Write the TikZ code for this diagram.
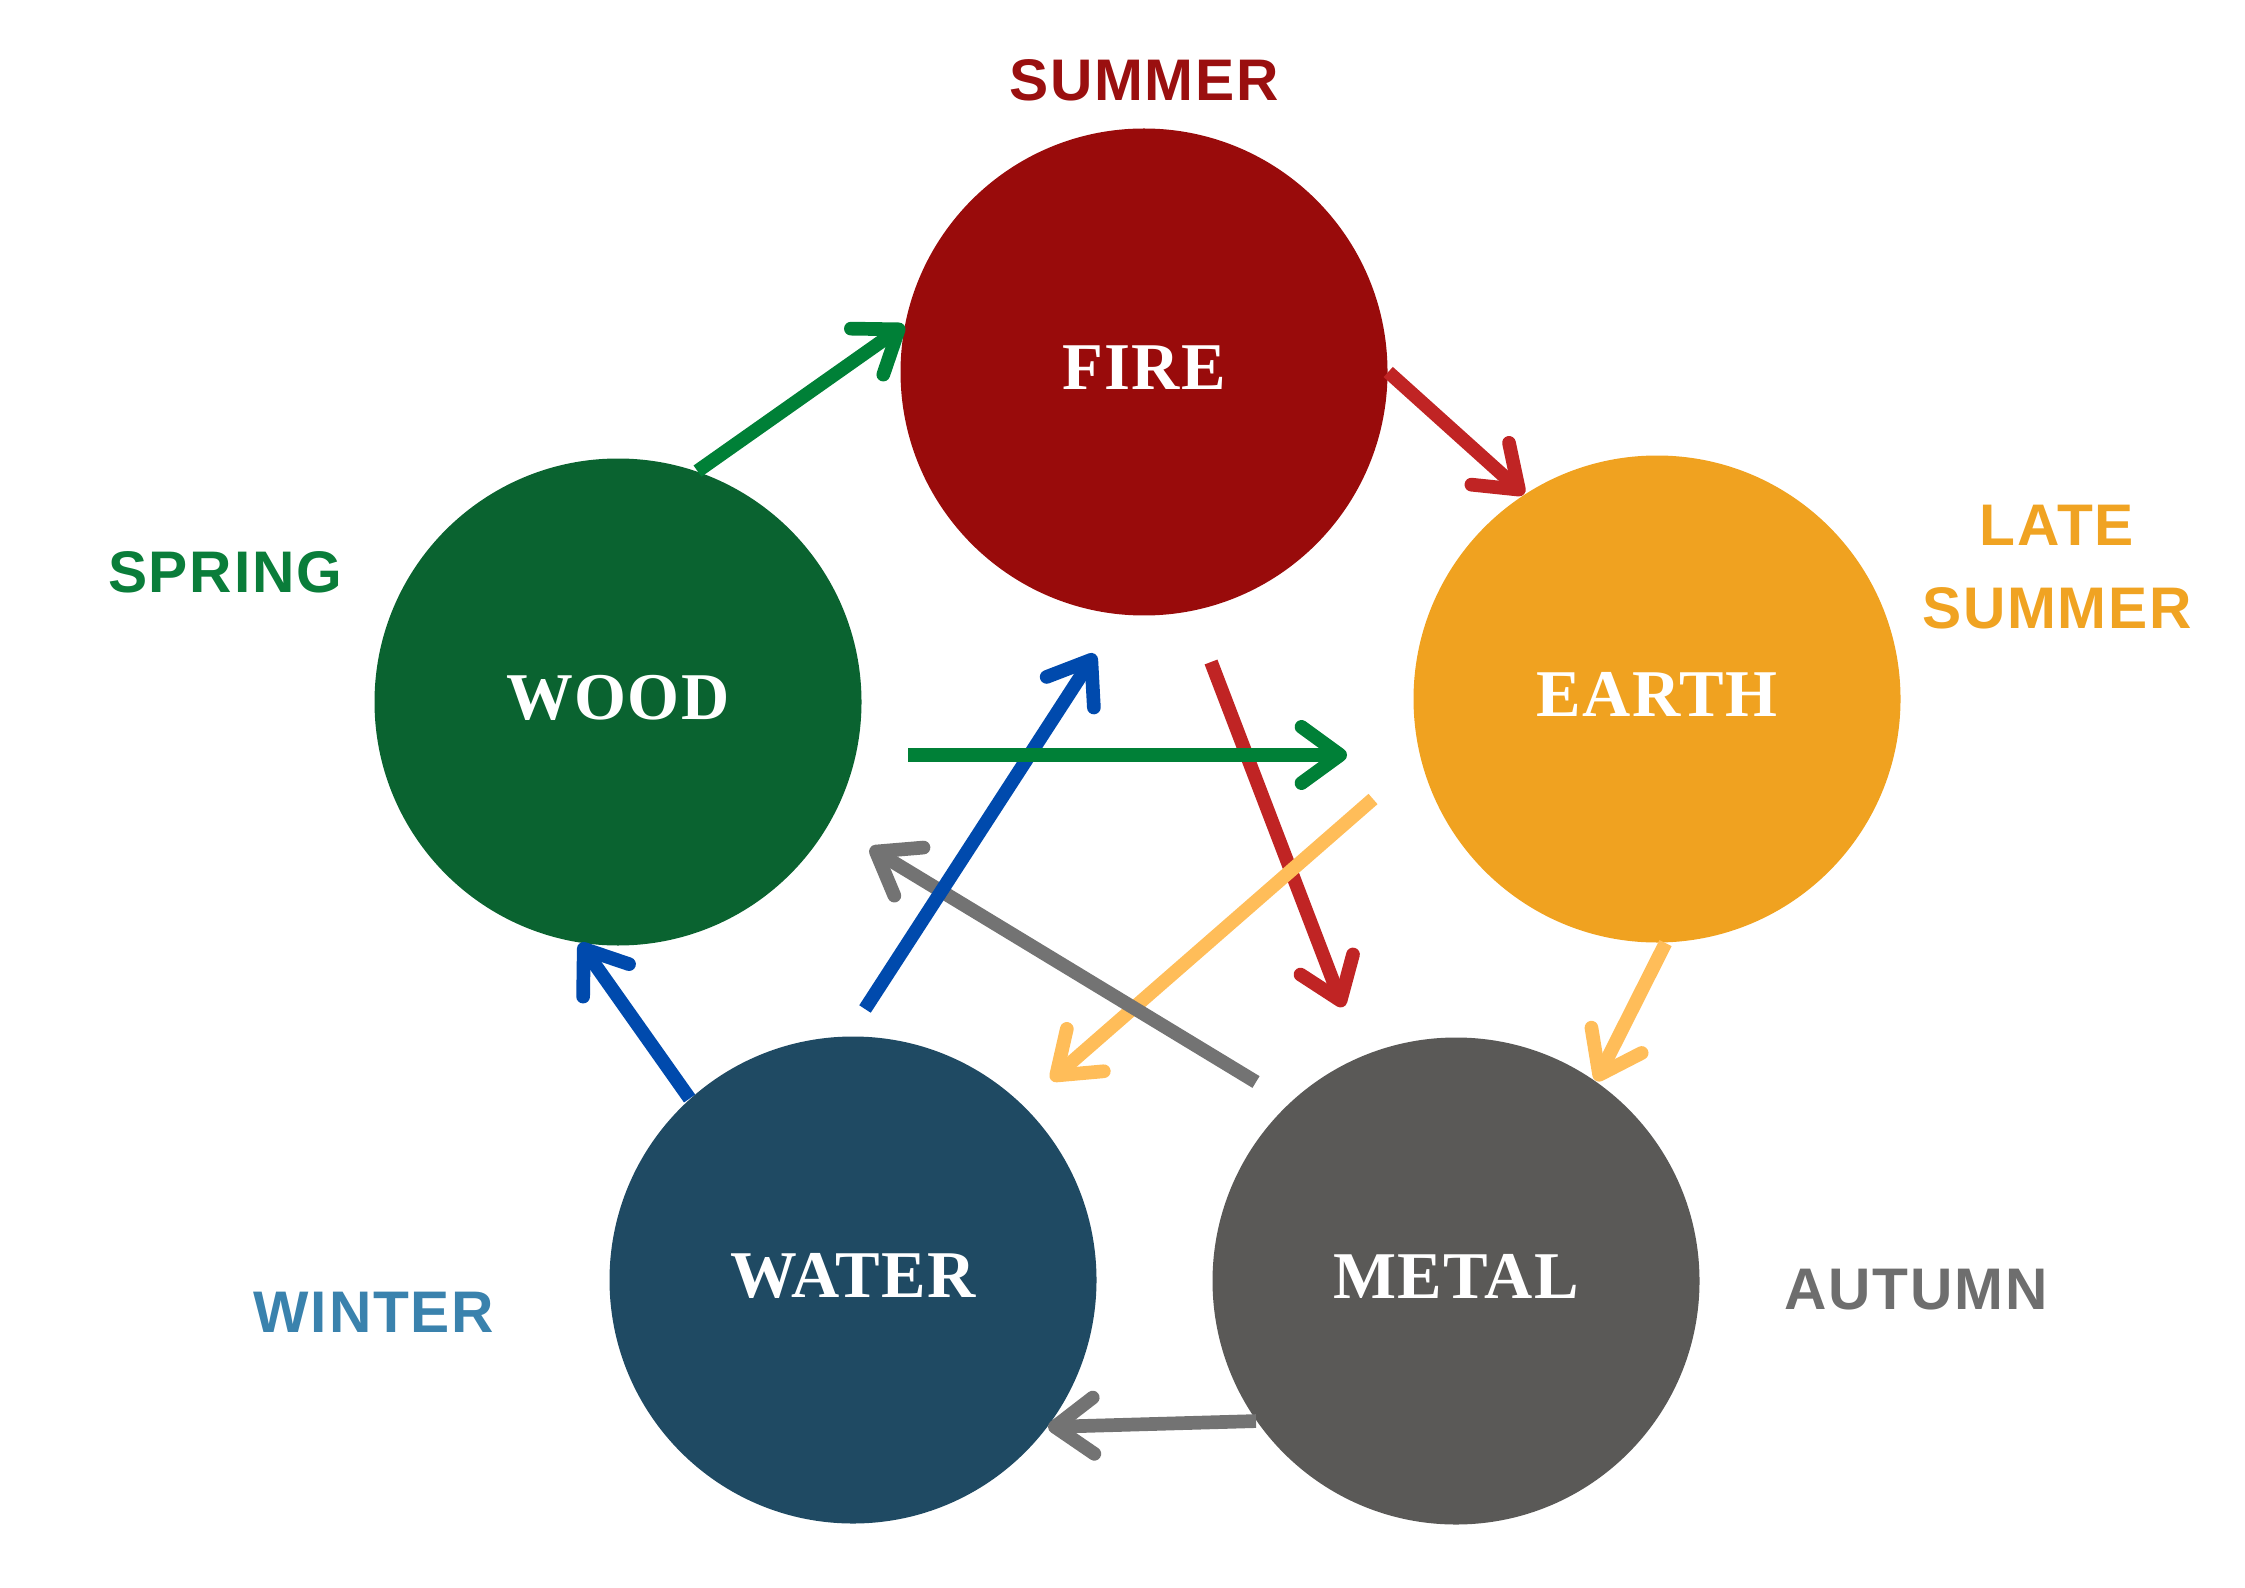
\documentclass[tikz,border=0pt]{standalone}
\usepackage{fontspec}
\usetikzlibrary{arrows.meta}
\newfontfamily\elemfont{Liberation Serif}[LetterSpace=2]
\newfontfamily\seasonfont{Liberation Sans}[LetterSpace=3]

\definecolor{firecol}{HTML}{990B0B}
\definecolor{woodcol}{HTML}{0A6330}
\definecolor{earthcol}{HTML}{F0A220}
\definecolor{watercol}{HTML}{1F4A63}
\definecolor{metalcol}{HTML}{5A5957}
\definecolor{arrgreen}{HTML}{008037}
\definecolor{arrred}{HTML}{C02424}
\definecolor{arryellow}{HTML}{FFBD59}
\definecolor{arrgray}{HTML}{737373}
\definecolor{arrblue}{HTML}{004AAD}
\definecolor{summercol}{HTML}{9A0F0F}
\definecolor{springcol}{HTML}{0A7D3A}
\definecolor{latecol}{HTML}{F0A322}
\definecolor{wintercol}{HTML}{3A82AD}
\definecolor{autumncol}{HTML}{6E6E6E}

\tikzset{
    elem/.style={circle,minimum size=48.7mm,inner sep=0pt,text=white,text depth=2.5pt,
        font=\elemfont\bfseries\fontsize{19}{22}\selectfont},
    season/.style={font=\seasonfont\bfseries\fontsize{16.7}{23.6}\selectfont,align=center},
    flow/.style={line width=3.9pt,-{Straight Barb[length=11pt,width=16pt,round]}}
}

\begin{document}
\begin{tikzpicture}[x=0.1mm,y=-0.1mm]
    \useasboundingbox (0,0) rectangle (2245,1587);
    % the five elements
    \node[elem,fill=firecol] (fire) at (1144,372) {FIRE};
    \node[elem,fill=woodcol] (wood) at (618,702) {WOOD};
    \node[elem,fill=earthcol] (earth) at (1657,699) {EARTH};
    \node[elem,fill=watercol] (water) at (853,1280) {WATER};
    \node[elem,fill=metalcol] (metal) at (1456,1281) {METAL};
    % seasons
    \node[season,text=summercol] (summer) at (1144,80) {SUMMER};
    \node[season,text=springcol] (spring) at (225,572) {SPRING};
    \node[season,text=latecol] (late) at (2057,567) {LATE\\SUMMER};
    \node[season,text=wintercol] (winter) at (374,1312) {WINTER};
    \node[season,text=autumncol] (autumn) at (1916,1290) {AUTUMN};
    % ends of the inner arrows
    \coordinate (waF) at (865,1009);
    \coordinate (fWa) at (1095,654);
    \coordinate (woE) at (908,755);
    \coordinate (eWo) at (1347,755);
    \coordinate (fM) at (1211,662);
    \coordinate (mF) at (1343,1007);
    \coordinate (eWa) at (1373,799);
    \coordinate (waE) at (1051,1080);
    \coordinate (mWo) at (1256,1082);
    \coordinate (woM) at (870,848);
    % outer cycle
    \draw[flow,arrgreen] (wood.71.5) -- (fire.169.7);
    \draw[flow,arrred] (fire.0) -- (earth.123.2);
    \draw[flow,arryellow] (earth.-88) -- (metal.55.4);
    \draw[flow,arrgray] (metal.215.2) -- (water.-37.7);
    \draw[flow,arrblue] (water.132.3) -- (wood.261.2);
    % inner star
    \draw[flow,arrred] (fM) -- (mF);
    \draw[flow,arryellow] (eWa) -- (waE);
    \draw[flow,arrgray] (mWo) -- (woM);
    \draw[flow,arrblue] (waF) -- (fWa);
    \draw[flow,arrgreen] (woE) -- (eWo);
\end{tikzpicture}
\end{document}
